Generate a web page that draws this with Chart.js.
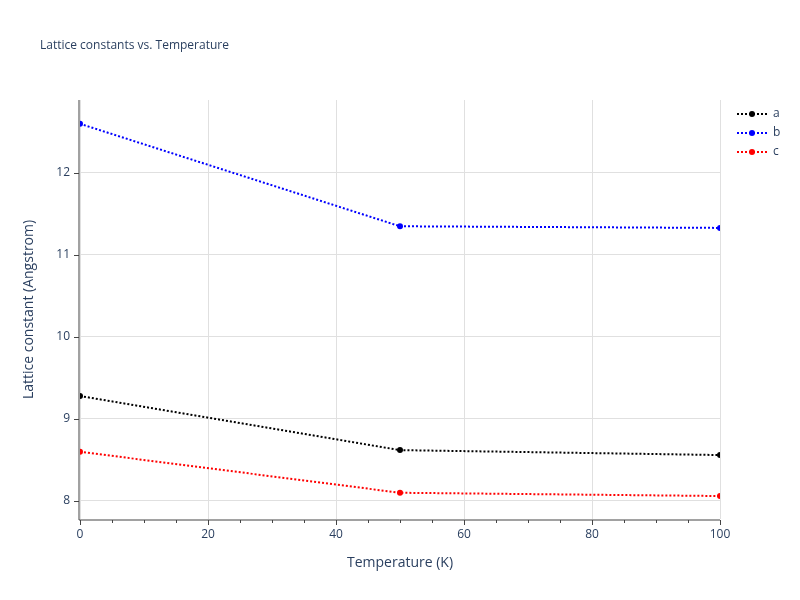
<!DOCTYPE html>
<html>
<head>
<meta charset="utf-8">
<script src="https://cdn.jsdelivr.net/npm/chart.js@4"></script>
<style>body{margin:0;background:#fff}#wrap{width:800px;height:600px}</style>
</head>
<body>
<div id="wrap"><canvas id="c" width="800" height="600"></canvas></div>
<script>
// Lattice constants vs temperature
const temps = [0, 50, 100];
const aVals = [9.28, 8.62, 8.56];
const bVals = [12.60, 11.35, 11.33];
const cVals = [8.60, 8.10, 8.06];
const seriesNames = ["a", "b", "c"];
const seriesColors = ["#000000", "#0000ff", "#ff0000"];

const FONT = "'Open Sans', Arial, sans-serif";
const TEXT = "#2a3f5f";

// Plotly-ish decorations: title, axis titles, axis lines, outside ticks, legend
const decor = {
  id: "decor",
  afterDraw(chart) {
    const ctx = chart.ctx;
    const { left, right, top, bottom } = chart.chartArea;
    const x = chart.scales.x, y = chart.scales.y;
    ctx.save();
    ctx.fillStyle = TEXT;
    ctx.font = "12px " + FONT;
    ctx.textBaseline = "middle";
    ctx.fillText("Lattice constants vs. Temperature", 40, 46);

    ctx.font = "14px " + FONT;
    ctx.textAlign = "center";
    ctx.fillText("Temperature (K)", (left + right) / 2, 563);
    ctx.save();
    ctx.translate(29, (top + bottom) / 2);
    ctx.rotate(-Math.PI / 2);
    ctx.fillText("Lattice constant (Angstrom)", 0, 0);
    ctx.restore();
    ctx.textAlign = "left";
    ctx.font = "12px " + FONT;

    ctx.strokeStyle = "#444";
    ctx.lineWidth = 1;
    ctx.beginPath();
    ctx.moveTo(left - 1, top); ctx.lineTo(left - 1, bottom + 1);
    ctx.moveTo(left - 1, bottom + 1); ctx.lineTo(right, bottom + 1);
    for (let v = 0; v <= 100; v += 5) {
      const px = Math.round(x.getPixelForValue(v)) + 0.5;
      ctx.moveTo(px, bottom + 1); ctx.lineTo(px, bottom + (v % 20 === 0 ? 6 : 4));
    }
    for (let v = 8; v <= 12; v += 1) {
      const py = Math.round(y.getPixelForValue(v)) + 0.5;
      ctx.moveTo(left - 1, py); ctx.lineTo(left - 6, py);
    }
    ctx.stroke();

    seriesNames.forEach((n, i) => {
      const ly = 114 + i * 19;
      ctx.strokeStyle = seriesColors[i];
      ctx.setLineDash([2, 2]);
      ctx.lineWidth = 2;
      ctx.beginPath(); ctx.moveTo(737, ly); ctx.lineTo(767, ly); ctx.stroke();
      ctx.setLineDash([]);
      ctx.fillStyle = seriesColors[i];
      ctx.beginPath(); ctx.arc(752, ly, 3, 0, Math.PI * 2); ctx.fill();
      ctx.fillStyle = TEXT;
      ctx.fillText(n, 773, ly);
    });
    ctx.restore();
  },
};

const vals = [aVals, bVals, cVals];
new Chart(document.getElementById("c"), {
  type: "line",
  data: {
    datasets: seriesNames.map((n, i) => ({
      label: n,
      data: temps.map((t, j) => ({ x: t, y: vals[i][j] })),
      borderColor: seriesColors[i],
      backgroundColor: seriesColors[i],
      borderDash: [2, 2],
      borderWidth: 2,
      pointRadius: 3,
      pointBorderWidth: 0,
      tension: 0,
    })),
  },
  options: {
    responsive: false,
    animation: false,
    layout: { padding: { top: 100, right: 80, left: 0, bottom: 0 } },
    plugins: { legend: { display: false }, tooltip: { enabled: false } },
    scales: {
      x: {
        type: "linear", min: 0, max: 100,
        afterFit: (s) => { s.height = 81; },
        grid: { color: "#e0e0e0", drawTicks: false },
        border: { display: false },
        ticks: { stepSize: 20, color: TEXT, padding: 8, font: { family: FONT, size: 12 } },
      },
      y: {
        min: 7.78, max: 12.89,
        afterBuildTicks: (s) => { s.ticks = [8, 9, 10, 11, 12].map((v) => ({ value: v })); },
        afterFit: (s) => { s.width = 80; },
        grid: { color: "#e0e0e0", drawTicks: false },
        border: { display: false },
        ticks: { color: TEXT, padding: 10, font: { family: FONT, size: 12 } },
      },
    },
  },
  plugins: [decor],
});
</script>
</body>
</html>
